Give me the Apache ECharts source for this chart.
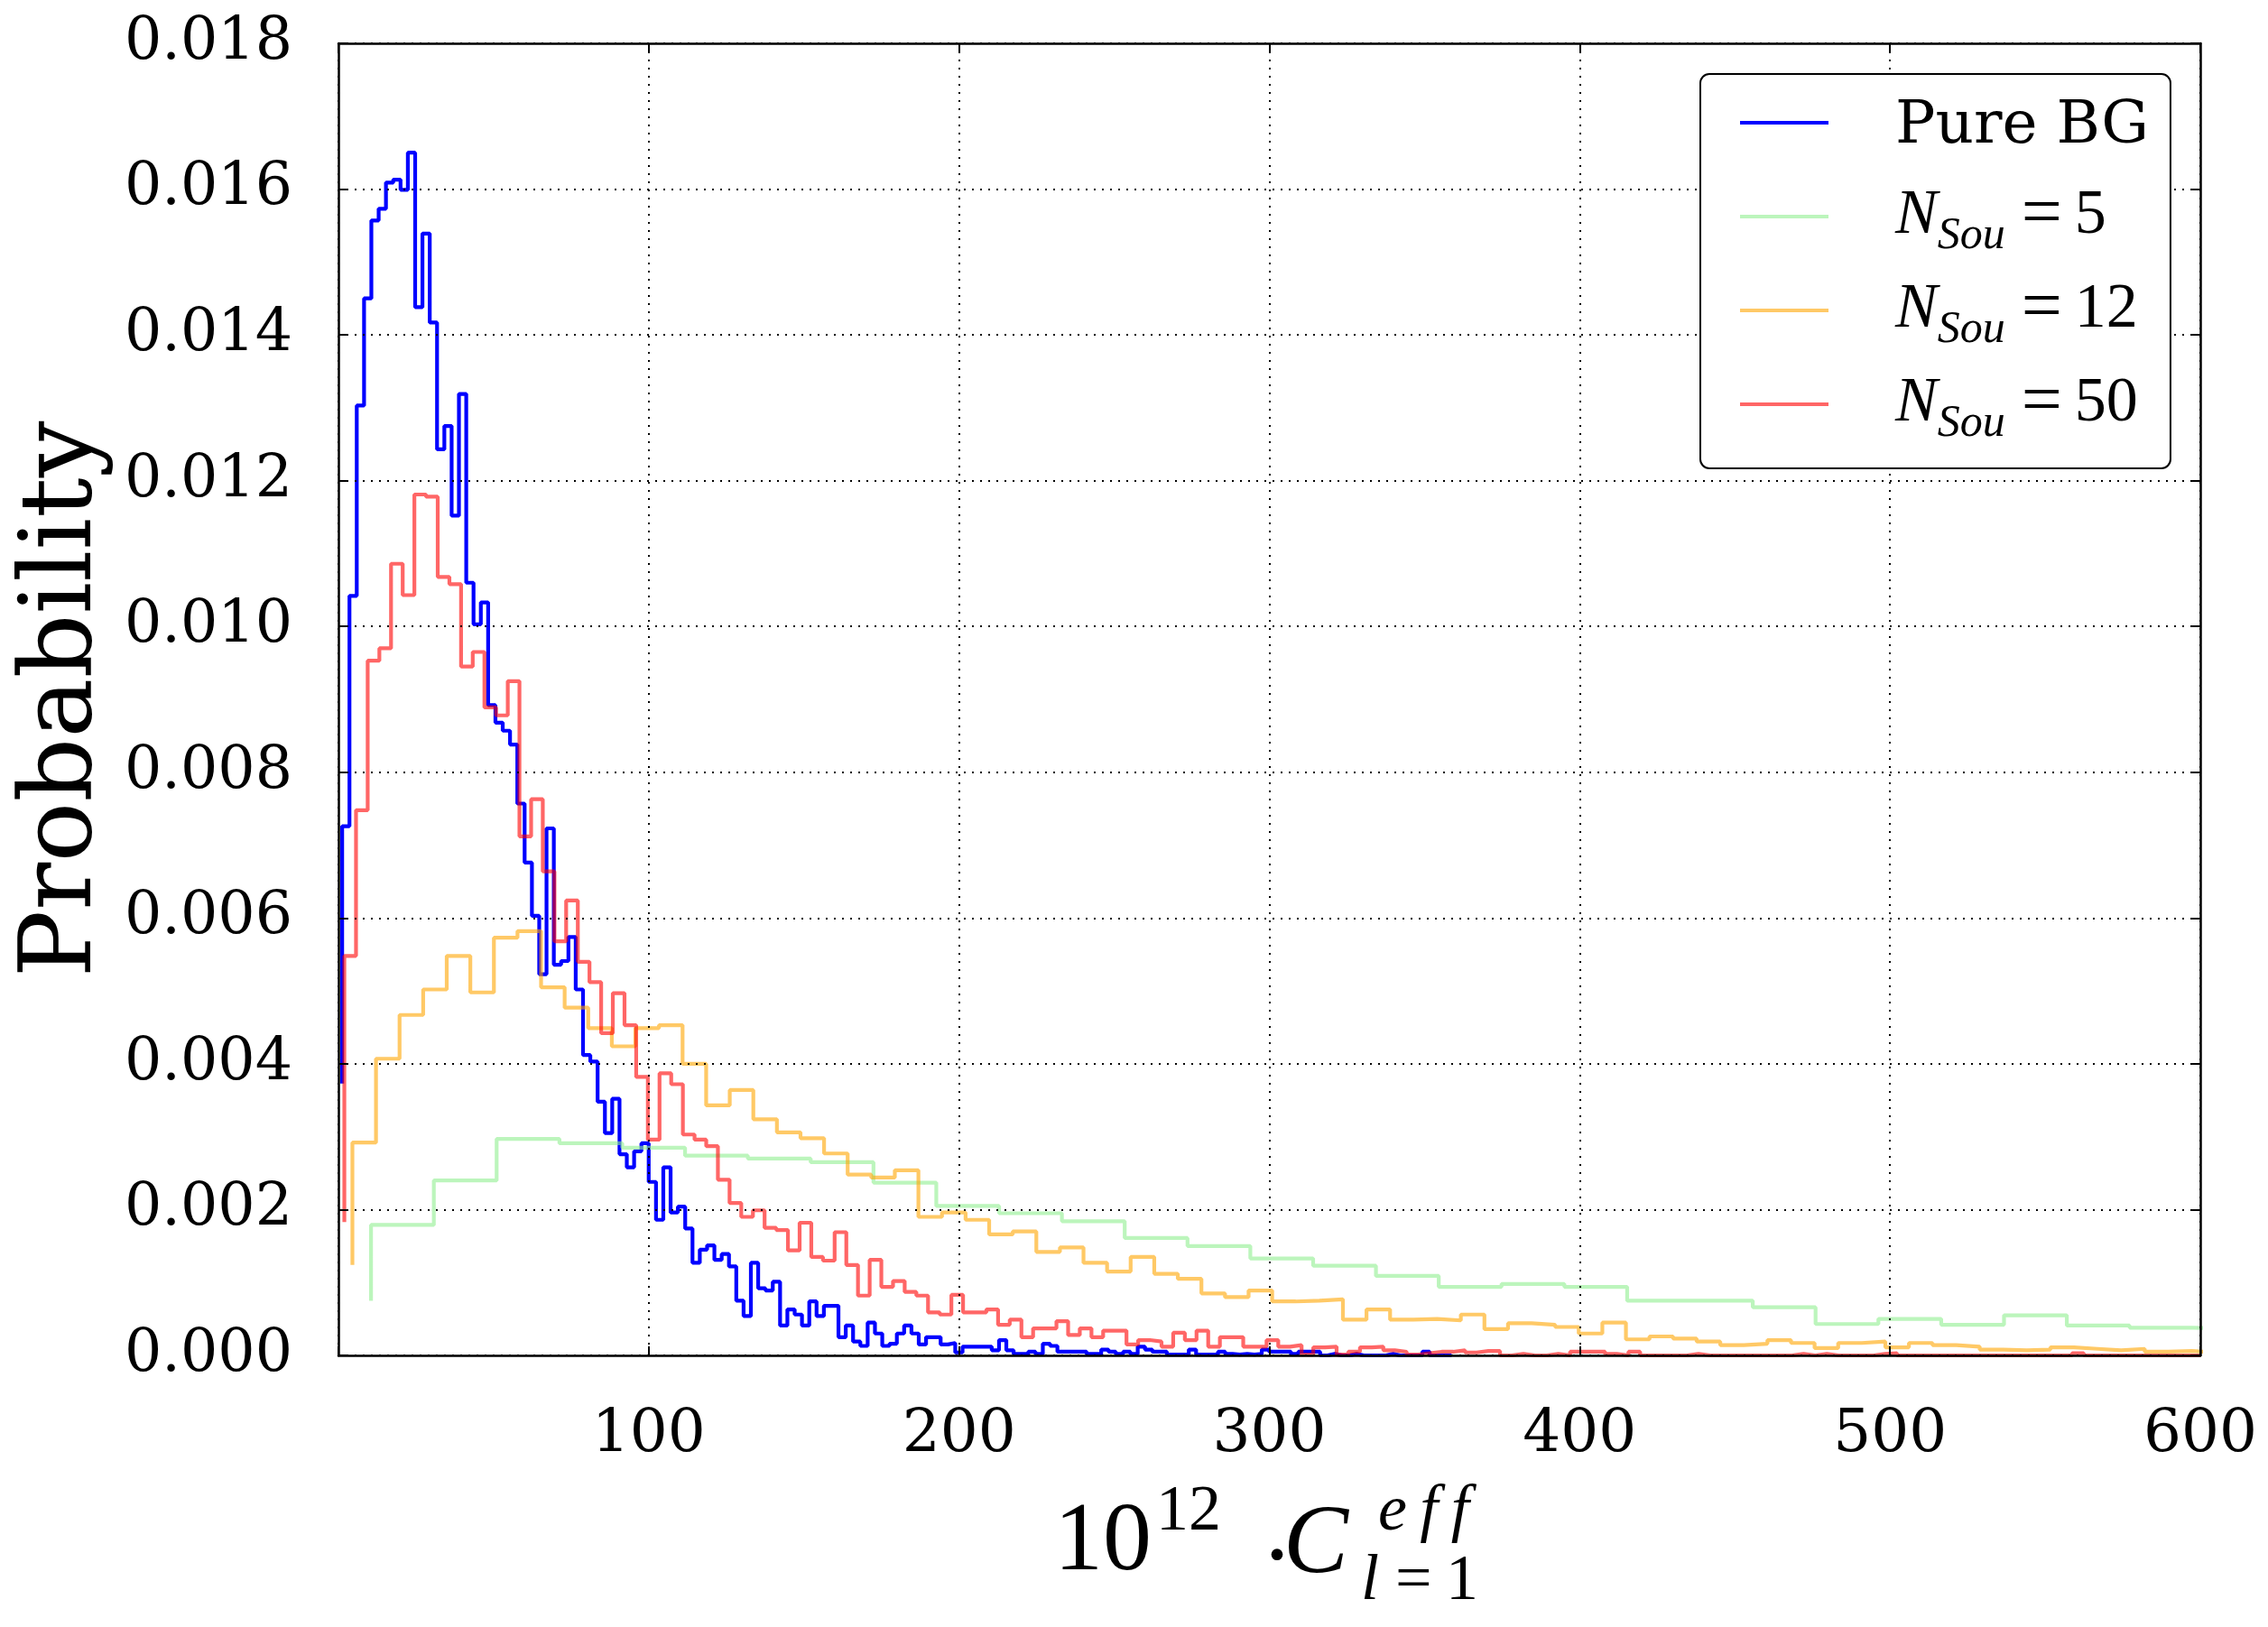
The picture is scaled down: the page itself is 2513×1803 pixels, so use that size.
<!DOCTYPE html>
<html><head><meta charset="utf-8">
<script src="https://cdn.jsdelivr.net/npm/echarts@6/dist/echarts.min.js"></script>
<style>html,body{margin:0;padding:0;background:#fff}#chart{width:2513px;height:1803px}</style>
</head><body><div id="chart"></div>
<script>
// ---- tick labels ----
const xTickValues = [0, 100, 200, 300, 400, 500, 600];
const yTickValues = [0, 0.002, 0.004, 0.006, 0.008, 0.010, 0.012, 0.014, 0.016, 0.018];

// ---- series names ----
const seriesNames = ['Pure BG', 'N_Sou=5', 'N_Sou=12', 'N_Sou=50'];

// ---- histogram bins (first point and bin width, in x units) ----
const pureBgBinStart = 1.2,  pureBgBinWidth = 2.352;
const sou5BinStart   = 10.5, sou5BinWidth   = 20.24;
const sou12BinStart  = 4.5,  sou12BinWidth  = 7.6;
const sou50BinStart  = 1.9,  sou50BinWidth  = 3.762;

// ---- probabilities per bin ----
const pureBgValues = [
 0.00373,0.00726,0.01042,0.01303,0.01450,0.01557,0.01573,0.01609,0.01613,0.01599,
 0.01650,0.01438,0.01539,0.01417,0.01243,0.01275,0.01152,0.01319,0.01060,0.01003,
 0.01033,0.00892,0.00868,0.00857,0.00838,0.00757,0.00676,0.00603,0.00523,0.00723,
 0.00536,0.00541,0.00574,0.00502,0.00412,0.00403,0.00348,0.00305,0.00352,0.00276,
 0.00258,0.00280,0.00291,0.00238,0.00186,0.00258,0.00196,0.00204,0.00174,0.00127,
 0.00145,0.00151,0.00131,0.00139,0.00122,0.00075,0.00054,0.00127,0.00092,0.00089,
 0.00101,0.00041,0.00063,0.00056,0.00041,0.00074,0.00054,0.00068,0.00068,0.00025,
 0.00041,0.00019,0.00013,0.00045,0.00030,0.00013,0.00016,0.00030,0.00041,0.00030,
 0.00015,0.00025,0.00025,0.00015,0.00017,0.00004,0.00012,0.00012,0.00012,0.00012,
 0.00007,0.00021,0.00007,0.00002,0.00002,0.00005,0.00002,0.00016,0.00013,0.00005,
 0.00005,0.00005,0.00005,0.00002,0.00002,0.00008,0.00005,0.00002,0.00005,0.00002,
 0.00012,0.00008,0.00005,0.00005,0.00001,0.00001,0.00001,0.00008,0.00001,0.00001,
 0.00001,0.00005,0.00002,0.00001,0.00002,0.00001,0.00002,0.00008,0.00005,0.00005,
 0.00005,0.00002,0.00005,0.00005,0.00005,0,0.00002,0,0,0.00002,
 0,0,0,0,0.00002,0,0,0,0,0.00005,
 0,0,0
];
const sou5Values = [
 0.00075,0.00179,0.00240,0.00297,0.00291,0.00285,0.00274,0.00270,0.00265,0.00237,
 0.00205,0.00195,0.00184,0.00161,0.00150,0.00133,0.00123,0.00109,0.00094,0.00098,
 0.00094,0.00075,0.00075,0.00066,0.00043,0.00050,0.00042,0.00055,0.00041,0.00038,
 0.00036
];
const sou12Values = [
 0.00124,0.00292,0.00407,0.00467,0.00502,0.00548,0.00498,0.00573,0.00582,0.00505,
 0.00477,0.00449,0.00424,0.00449,0.00453,0.00400,0.00343,0.00364,0.00324,0.00306,
 0.00298,0.00277,0.00248,0.00244,0.00254,0.00190,0.00196,0.00186,0.00166,0.00170,
 0.00142,0.00148,0.00127,0.00115,0.00135,0.00112,0.00105,0.00085,0.00080,0.00089,
 0.00074,0.00075,0.00077,0.00049,0.00063,0.00049,0.00050,0.00048,0.00056,0.00036,
 0.00044,0.00042,0.00039,0.00030,0.00045,0.00022,0.00026,0.00023,0.00019,0.00014,
 0.00016,0.00021,0.00017,0.00010,0.00017,0.00019,0.00011,0.00017,0.00014,0.00012,
 0.00008,0.00007,0.00008,0.00011,0.00009,0.00007,0.00009,0.00005,0.00006,0.00004
];
const sou50Values = [
 0.00183,0.00548,0.00748,0.00953,0.00970,0.01086,0.01043,0.01181,0.01178,0.01068,
 0.01058,0.00945,0.00965,0.00889,0.00878,0.00925,0.00712,0.00763,0.00664,0.00568,
 0.00624,0.00540,0.00512,0.00442,0.00497,0.00453,0.00382,0.00296,0.00387,0.00372,
 0.00303,0.00296,0.00287,0.00241,0.00209,0.00190,0.00199,0.00175,0.00172,0.00144,
 0.00182,0.00135,0.00130,0.00169,0.00124,0.00082,0.00131,0.00094,0.00102,0.00087,
 0.00082,0.00059,0.00056,0.00083,0.00059,0.00059,0.00063,0.00042,0.00049,0.00025,
 0.00037,0.00037,0.00047,0.00028,0.00037,0.00025,0.00034,0.00034,0.00015,0.00021,
 0.00019,0.00012,0.00031,0.00021,0.00034,0.00012,0.00025,0.00025,0.00012,0.00012,
 0.00021,0.00012,0.00014,0.00001,0.00011,0.00012,0.00001,0.00005,0.00011,0.00012,
 0.00007,0.00005,0.00001,0.00003,0.00005,0.00005,0.00007,0.00004,0.00006,0.00006,
 0,0.00002,0,0,0.00002,0,0.00005,0.00005,0.00005,0.00002,
 0,0.00005,0,0,0,0,0.00002,0,0,0,
 0,0,0,0,0,0.00002,0,0.00002,0,0,
 0,0,0.00002,0.00003,0,0,0,0,0,0,
 0,0,0,0,0,0,0,0,0,0.00003,
 0,0,0,0,0,0,0,0,0,0
];

// ---- build option ----
function binPoints(start, width, values) {
  return values.map((v, i) => [start + i * width, v]);
}
const seriesSpecs = [
  { name: seriesNames[0], start: pureBgBinStart, width: pureBgBinWidth, values: pureBgValues, color: 'rgb(0,0,255)' },
  { name: seriesNames[1], start: sou5BinStart,   width: sou5BinWidth,   values: sou5Values,   color: 'rgba(144,238,144,0.6)' },
  { name: seriesNames[2], start: sou12BinStart,  width: sou12BinWidth,  values: sou12Values,  color: 'rgba(255,165,0,0.6)' },
  { name: seriesNames[3], start: sou50BinStart,  width: sou50BinWidth,  values: sou50Values,  color: 'rgba(255,0,0,0.6)' }
];

const tickFont = 'DejaVu Serif';
const xMin = xTickValues[0], xMax = xTickValues[xTickValues.length - 1], xStep = xTickValues[1] - xTickValues[0];
const yMin = yTickValues[0], yMax = yTickValues[yTickValues.length - 1], yStep = yTickValues[1] - yTickValues[0];

const axisLineStyle = { color: '#000', width: 2.5 };
const tickStyle = { show: true, inside: true, length: 10, lineStyle: { color: '#000', width: 2 } };
const gridLineStyle = { color: '#000', width: 2, type: [2, 7] };

const LH = 100;
const legendRich = {
  sp: { width: 69, lineHeight: LH },
  t:  { fontFamily: 'DejaVu Serif', fontSize: 66, color: '#000', lineHeight: LH, padding: [10, 0, 0, 0] },
  n:  { fontFamily: 'Liberation Serif', fontStyle: 'italic', fontSize: 70, color: '#000', lineHeight: LH },
  s:  { fontFamily: 'Liberation Serif', fontStyle: 'italic', fontSize: 50, color: '#000', lineHeight: LH, padding: [44, 0, 0, 0] },
  e:  { fontFamily: 'Liberation Serif', fontSize: 80, color: '#000', lineHeight: LH, padding: [0, 14, 0, 18] },
  d:  { fontFamily: 'Liberation Serif', fontSize: 70, color: '#000', lineHeight: LH }
};
function legendLabel(name) {
  if (name.indexOf('N_') === 0) {
    const parts = name.split('=');
    const sub = parts[0].slice(2);
    return '{sp| }{n|N}{s|' + sub + '}{e|=}{d|' + parts[1] + '}';
  }
  return '{sp| }{t|' + name + '}';
}

const titleFont = '"Liberation Serif"';
const option = {
  animation: false,
  backgroundColor: '#fff',
  grid: { left: 375, right: 75, top: 48, bottom: 301, containLabel: false, outerBoundsMode: 'none' },
  xAxis: [
    {
      type: 'value', position: 'bottom', min: xMin, max: xMax, interval: xStep, z: 3,
      axisLine: { show: true, onZero: false, lineStyle: axisLineStyle },
      axisTick: tickStyle,
      axisLabel: { show: true, margin: 56, fontFamily: tickFont, fontSize: 66, color: '#000',
                   formatter: v => (v === 0 ? '' : String(v)) },
      splitLine: { show: true, lineStyle: gridLineStyle }
    },
    {
      type: 'value', position: 'top', min: xMin, max: xMax, interval: xStep, z: 3,
      axisLine: { show: true, onZero: false, lineStyle: axisLineStyle },
      axisTick: tickStyle, axisLabel: { show: false }, splitLine: { show: false }
    }
  ],
  yAxis: [
    {
      type: 'value', position: 'left', min: yMin, max: yMax, interval: yStep, z: 3,
      name: 'Probability', nameLocation: 'middle', nameGap: 237,
      nameTextStyle: { fontFamily: 'DejaVu Serif', fontSize: 111, color: '#000' },
      axisLine: { show: true, onZero: false, lineStyle: axisLineStyle },
      axisTick: tickStyle,
      axisLabel: { show: true, margin: 51, fontFamily: tickFont, fontSize: 65, color: '#000',
                   formatter: v => v.toFixed(3) },
      splitLine: { show: true, lineStyle: gridLineStyle }
    },
    {
      type: 'value', position: 'right', min: yMin, max: yMax, interval: yStep, z: 3,
      axisLine: { show: true, onZero: false, lineStyle: axisLineStyle },
      axisTick: tickStyle, axisLabel: { show: false }, splitLine: { show: false }
    }
  ],
  legend: {
    orient: 'vertical', left: 1884, top: 82,
    padding: [4, 24, 21, 44],
    itemWidth: 98, itemHeight: 4, itemGap: 4,
    icon: 'rect',
    backgroundColor: '#fff', borderColor: '#000', borderWidth: 2, borderRadius: 10,
    data: seriesSpecs.map(s => ({ name: s.name, itemStyle: { color: s.color } })),
    formatter: legendLabel,
    textStyle: { color: '#000', lineHeight: LH, rich: legendRich }
  },
  series: seriesSpecs.map((s, k) => ({
    name: s.name, type: 'line', step: 'start', xAxisIndex: 0, yAxisIndex: 0,
    showSymbol: false, symbol: 'none', clip: true, z: 2 + k * 0.01,
    color: s.color,
    lineStyle: { color: s.color, width: 4.2 },
    itemStyle: { color: s.color },
    emphasis: { disabled: true },
    data: binPoints(s.start, s.width, s.values)
  })),
  graphic: { elements: [
    { type: 'text', x: 1168, y: 1711, style: { text: '10', font: '108px ' + titleFont, fill: '#000', textAlign: 'left', textVerticalAlign: 'middle' } },
    { type: 'text', x: 1281, y: 1676, style: { text: '12', font: '72px ' + titleFont, fill: '#000', textAlign: 'left', textVerticalAlign: 'middle' } },
    { type: 'text', x: 1397, y: 1730, style: { text: '\u00b7', font: '108px ' + titleFont, fill: '#000', textAlign: 'left', textVerticalAlign: 'middle' } },
    { type: 'text', x: 1422, y: 1714, style: { text: 'C', font: 'italic 108px ' + titleFont, fill: '#000', textAlign: 'left', textVerticalAlign: 'middle' } },
    { type: 'text', x: 1527, y: 1676, style: { text: 'e\u2009f\u2009f', font: 'italic 72px ' + titleFont, fill: '#000', textAlign: 'left', textVerticalAlign: 'middle' } },
    { type: 'text', x: 1508, y: 1753, style: { text: 'l', font: 'italic 72px ' + titleFont, fill: '#000', textAlign: 'left', textVerticalAlign: 'middle' } },
    { type: 'text', x: 1546, y: 1753, style: { text: '=', font: '72px ' + titleFont, fill: '#000', textAlign: 'left', textVerticalAlign: 'middle' } },
    { type: 'text', x: 1602, y: 1753, style: { text: '1', font: '72px ' + titleFont, fill: '#000', textAlign: 'left', textVerticalAlign: 'middle' } }
  ] }
};

const chart = echarts.init(document.getElementById('chart'), null, { renderer: 'canvas', width: 2513, height: 1803 });
chart.setOption(option);
</script>
</body></html>
